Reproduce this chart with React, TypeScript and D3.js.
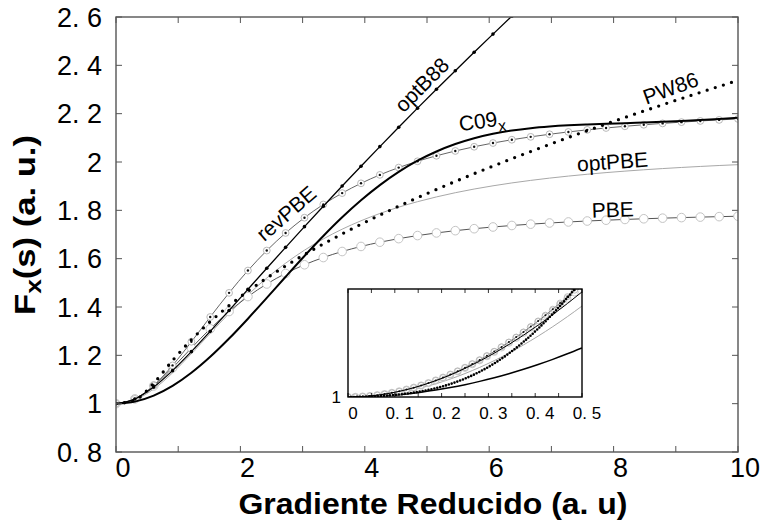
import React from "react";
import * as d3 from "d3";

// Reduced gradient grid for the main panel (step 10/33)
const S_MAIN = [0, 0.303, 0.606, 0.909, 1.212, 1.515, 1.818, 2.121, 2.424, 2.727, 3.03, 3.333, 3.636, 3.939, 4.242, 4.545, 4.848, 5.152, 5.455, 5.758, 6.061, 6.364, 6.667, 6.97, 7.273, 7.576, 7.879, 8.182, 8.485, 8.788, 9.091, 9.394, 9.697, 10];

const PBE = [1, 1.0197, 1.0733, 1.148, 1.2302, 1.3098, 1.3814, 1.4432, 1.4953, 1.5387, 1.5748, 1.6047, 1.6296, 1.6505, 1.6681, 1.6829, 1.6956, 1.7065, 1.7159, 1.724, 1.7311, 1.7373, 1.7428, 1.7476, 1.7519, 1.7558, 1.7592, 1.7623, 1.7651, 1.7676, 1.7699, 1.772, 1.7739, 1.7756];
const REVPBE = [1, 1.0198, 1.0757, 1.1583, 1.2562, 1.3587, 1.4585, 1.5508, 1.6336, 1.7064, 1.7696, 1.8243, 1.8713, 1.9118, 1.9467, 1.9769, 2.003, 2.0258, 2.0457, 2.0631, 2.0785, 2.0921, 2.1041, 2.1148, 2.1244, 2.133, 2.1408, 2.1478, 2.1541, 2.1598, 2.165, 2.1698, 2.1742, 2.1782];
const OPTPBE = [1, 1.0159, 1.0607, 1.1274, 1.207, 1.291, 1.3735, 1.4504, 1.5199, 1.5813, 1.6351, 1.6817, 1.722, 1.7568, 1.787, 1.8131, 1.8358, 1.8555, 1.8729, 1.8881, 1.9015, 1.9134, 1.9239, 1.9333, 1.9417, 1.9493, 1.9561, 1.9622, 1.9678, 1.9728, 1.9774, 1.9816, 1.9855, 1.989];
const C09X = [1, 1.0084, 1.0333, 1.0736, 1.1278, 1.1939, 1.2694, 1.3516, 1.4377, 1.5251, 1.6112, 1.6938, 1.7711, 1.8416, 1.9044, 1.959, 2.0053, 2.0435, 2.0743, 2.0984, 2.1167, 2.1302, 2.1399, 2.1467, 2.1516, 2.1551, 2.158, 2.1606, 2.1634, 2.1665, 2.17, 2.1739, 2.1783, 2.183];
const PW86 = [1, 1.0143, 1.0845, 1.1785, 1.2644, 1.3395, 1.4058, 1.4654, 1.5197, 1.5699, 1.6168, 1.6609, 1.7026, 1.7424, 1.7804, 1.817, 1.8523, 1.8864, 1.9195, 1.9517, 1.9831, 2.0137, 2.0436, 2.0728, 2.1015, 2.1295, 2.1571, 2.1842, 2.2108, 2.2369, 2.2627, 2.288, 2.313, 2.3376];
// optB88 leaves the frame near s = 6.4, so only the first points are kept
const OPTB88 = [1, 1.0191, 1.0686, 1.1367, 1.2153, 1.2992, 1.3857, 1.4731, 1.5603, 1.6469, 1.7325, 1.8171, 1.9005, 1.9827, 2.0638, 2.1439, 2.2228, 2.3008, 2.3778, 2.4539, 2.5292, 2.6037, 2.6774];

// Inset, fine grid (step 1/64)
const S_INSET_FINE = [0, 0.0156, 0.0313, 0.0469, 0.0625, 0.0781, 0.0938, 0.1094, 0.125, 0.1406, 0.1563, 0.1719, 0.1875, 0.2031, 0.2188, 0.2344, 0.25, 0.2656, 0.2813, 0.2969, 0.3125, 0.3281, 0.3438, 0.3594, 0.375, 0.3906, 0.4063, 0.4219, 0.4375, 0.4531, 0.4688, 0.4844, 0.5];
const PBE_INSET = [1, 1.00005, 1.00021, 1.00048, 1.00086, 1.00134, 1.00192, 1.00262, 1.00342, 1.00432, 1.00532, 1.00643, 1.00764, 1.00896, 1.01037, 1.01188, 1.01349, 1.0152, 1.017, 1.01889, 1.02088, 1.02296, 1.02513, 1.02738, 1.02973, 1.03216, 1.03467, 1.03726, 1.03993, 1.04268, 1.0455, 1.0484, 1.05137];
const REVPBE_INSET = [1, 1.00005, 1.00021, 1.00048, 1.00086, 1.00134, 1.00193, 1.00262, 1.00342, 1.00433, 1.00534, 1.00645, 1.00767, 1.00899, 1.01042, 1.01194, 1.01357, 1.0153, 1.01713, 1.01905, 1.02107, 1.0232, 1.02541, 1.02772, 1.03012, 1.03262, 1.0352, 1.03788, 1.04064, 1.0435, 1.04643, 1.04946, 1.05256];
const OPTPBE_INSET = [1, 1.00004, 1.00017, 1.00039, 1.00069, 1.00107, 1.00154, 1.0021, 1.00274, 1.00346, 1.00427, 1.00516, 1.00613, 1.00719, 1.00833, 1.00955, 1.01086, 1.01224, 1.0137, 1.01524, 1.01686, 1.01856, 1.02034, 1.02219, 1.02411, 1.02612, 1.02819, 1.03033, 1.03255, 1.03484, 1.0372, 1.03962, 1.04212];

// Inset, coarse grid (step 1/32)
const S_INSET = [0, 0.03125, 0.0625, 0.09375, 0.125, 0.15625, 0.1875, 0.21875, 0.25, 0.28125, 0.3125, 0.34375, 0.375, 0.40625, 0.4375, 0.46875, 0.5];
const C09X_INSET = [1, 1.00009, 1.00036, 1.00081, 1.00143, 1.00224, 1.00322, 1.00438, 1.00572, 1.00724, 1.00893, 1.0108, 1.01284, 1.01505, 1.01744, 1.02, 1.02273];
const PW86_INSET = [1, 1.00009, 1.00035, 1.00083, 1.00156, 1.00262, 1.00407, 1.00601, 1.00852, 1.01168, 1.01554, 1.02015, 1.02553, 1.03166, 1.0385, 1.04599, 1.05404];
const OPTB88_INSET = [1, 1.00021, 1.00086, 1.00192, 1.0034, 1.00528, 1.00756, 1.01021, 1.01323, 1.01659, 1.02029, 1.02431, 1.02863, 1.03324, 1.03812, 1.04327, 1.04866];

const Y_TICKS = [0.8, 1, 1.2, 1.4, 1.6, 1.8, 2, 2.2, 2.4, 2.6];
const Y_TICK_LABELS = ["0. 8", "1", "1. 2", "1. 4", "1. 6", "1. 8", "2", "2. 2", "2. 4", "2. 6"];
const X_TICKS = [0, 1, 2, 3, 4, 5, 6, 7, 8, 9, 10];
const X_LABEL_TICKS = [0, 2, 4, 6, 8, 10];
const X_TICK_LABELS = ["0", "2", "4", "6", "8", "10"];
const INSET_X_TICKS = [0, 0.05, 0.1, 0.15, 0.2, 0.25, 0.3, 0.35, 0.4, 0.45, 0.5];
const INSET_LABEL_TICKS = [0, 0.1, 0.2, 0.3, 0.4, 0.5];
const INSET_X_LABELS = ["0", "0. 1", "0. 2", "0. 3", "0. 4", "0. 5"];

const FONT = "'Liberation Sans', Arial, Helvetica, sans-serif";

export default function App() {
  const x = d3.scaleLinear().domain([0, 10]).range([116, 738]);
  const y = d3.scaleLinear().domain([0.8, 2.6]).range([452, 17]);
  const xi = d3.scaleLinear().domain([0, 0.5]).range([348, 582]);
  const yi = d3.scaleLinear().domain([1, 1.05]).range([397, 289]);

  const mainPath = (vals: number[]) =>
    d3.line<number>().x((_, i) => x(S_MAIN[i])).y((v) => y(v)).curve(d3.curveMonotoneX)(vals) || "";
  const finePath = (vals: number[]) =>
    d3.line<number>().x((_, i) => xi(S_INSET_FINE[i])).y((v) => yi(v)).curve(d3.curveMonotoneX)(vals) || "";
  const coarsePath = (vals: number[]) =>
    d3.line<number>().x((_, i) => xi(S_INSET[i])).y((v) => yi(v)).curve(d3.curveMonotoneX)(vals) || "";

  const [x0, x1] = x.range();
  const [yb, yt] = y.range();
  const tick = 6;

  return (
    <svg width={763} height={525} style={{ position: "fixed", left: 0, top: 0, background: "#fff" }} fontFamily={FONT}>
      <defs>
        <clipPath id="plot-clip">
          <rect x={x0} y={yt} width={x1 - x0} height={yb - yt} />
        </clipPath>
        <clipPath id="inset-clip">
          <rect x={xi(0)} y={yi(1.05)} width={xi(0.5) - xi(0)} height={yi(1) - yi(1.05)} />
        </clipPath>
      </defs>

      {/* main curves */}
      <g clipPath="url(#plot-clip)">
        <path d={mainPath(OPTPBE)} fill="none" stroke="#a8a8a8" strokeWidth={1} />
        <path d={mainPath(PBE)} fill="none" stroke="#555" strokeWidth={1} />
        {PBE.map((v, i) => (
          <circle key={"pbe" + i} cx={x(S_MAIN[i])} cy={y(v)} r={4.3} fill="#fff" stroke="#c4c4c4" strokeWidth={1} />
        ))}
        <path d={mainPath(REVPBE)} fill="none" stroke="#555" strokeWidth={0.9} />
        {REVPBE.map((v, i) => (
          <g key={"rev" + i}>
            <circle cx={x(S_MAIN[i])} cy={y(v)} r={3.4} fill="#fff" stroke="#b0b0b0" strokeWidth={0.9} />
            <circle cx={x(S_MAIN[i])} cy={y(v)} r={1.2} fill="#111" />
          </g>
        ))}
        <path d={mainPath(PW86)} fill="none" stroke="#000" strokeWidth={3.3} strokeDasharray="0 8.5" strokeLinecap="round" />
        <path d={mainPath(OPTB88)} fill="none" stroke="#000" strokeWidth={1.3} />
        {OPTB88.map((v, i) => (
          <circle key={"b88" + i} cx={x(S_MAIN[i])} cy={y(v)} r={1.8} fill="#000" />
        ))}
        <path d={mainPath(C09X)} fill="none" stroke="#000" strokeWidth={2} />
      </g>

      {/* frame and ticks */}
      <rect x={x0} y={yt} width={x1 - x0} height={yb - yt} fill="none" stroke="#555" strokeWidth={1.4} />
      {X_TICKS.map((t) => (
        <g key={"xt" + t} stroke="#555" strokeWidth={1}>
          <line x1={x(t)} x2={x(t)} y1={yb} y2={yb - tick} />
          <line x1={x(t)} x2={x(t)} y1={yt} y2={yt + tick} />
        </g>
      ))}
      {Y_TICKS.map((t) => (
        <g key={"yt" + t} stroke="#555" strokeWidth={1}>
          <line x1={x0} x2={x0 + tick} y1={y(t)} y2={y(t)} />
          <line x1={x1} x2={x1 - tick} y1={y(t)} y2={y(t)} />
        </g>
      ))}
      {Y_TICKS.map((t, i) => (
        <text key={"yl" + t} x={102} y={y(t)} dy="0.36em" textAnchor="end" fontSize={27} fill="#000">
          {Y_TICK_LABELS[i]}
        </text>
      ))}
      {X_LABEL_TICKS.map((t, i) => (
        <text key={"xl" + t} x={x(t) + 7} y={477} textAnchor="middle" fontSize={27} fill="#000">
          {X_TICK_LABELS[i]}
        </text>
      ))}

      {/* axis titles */}
      <text x={433} y={514} textAnchor="middle" fontSize={29} fontWeight="bold" textLength={389} lengthAdjust="spacingAndGlyphs">
        Gradiente Reducido (a. u)
      </text>
      <text transform="translate(35,225) rotate(-90)" textAnchor="middle" fontSize={29} fontWeight="bold" textLength={180} lengthAdjust="spacingAndGlyphs">
        F<tspan dy={6} fontSize={22}>x</tspan>
        <tspan dy={-6}>(s) (a. u.)</tspan>
      </text>

      {/* curve labels */}
      <text transform="translate(427,90) rotate(-45)" textAnchor="middle" fontSize={21}>optB88</text>
      <text transform="translate(291,219) rotate(-41)" textAnchor="middle" fontSize={21}>revPBE</text>
      <text transform="translate(483,128) rotate(-8)" textAnchor="middle" fontSize={21}>
        C09<tspan dy={6} fontSize={16}>x</tspan>
      </text>
      <text transform="translate(673,95) rotate(-20)" textAnchor="middle" fontSize={21}>PW86</text>
      <text transform="translate(613,169) rotate(-4)" textAnchor="middle" fontSize={21}>optPBE</text>
      <text transform="translate(613,217) rotate(-2)" textAnchor="middle" fontSize={21}>PBE</text>

      {/* inset */}
      <rect x={xi(0)} y={yi(1.05)} width={xi(0.5) - xi(0)} height={yi(1) - yi(1.05)} fill="#fff" />
      <g clipPath="url(#inset-clip)">
        <path d={finePath(OPTPBE_INSET)} fill="none" stroke="#a8a8a8" strokeWidth={1} />
        <path d={coarsePath(C09X_INSET)} fill="none" stroke="#000" strokeWidth={1.5} />
        <path d={finePath(PBE_INSET)} fill="none" stroke="#555" strokeWidth={0.9} />
        {PBE_INSET.map((v, i) => (
          <circle key={"ipbe" + i} cx={xi(S_INSET_FINE[i])} cy={yi(v)} r={3.6} fill="#fff" stroke="#c4c4c4" strokeWidth={0.9} />
        ))}
        <path d={finePath(REVPBE_INSET)} fill="none" stroke="#555" strokeWidth={0.8} />
        {REVPBE_INSET.map((v, i) => (
          <g key={"irev" + i}>
            <circle cx={xi(S_INSET_FINE[i])} cy={yi(v)} r={3} fill="none" stroke="#b0b0b0" strokeWidth={0.8} />
            <circle cx={xi(S_INSET_FINE[i])} cy={yi(v)} r={1} fill="#111" />
          </g>
        ))}
        <path d={coarsePath(OPTB88_INSET)} fill="none" stroke="#000" strokeWidth={1} />
        <path d={coarsePath(PW86_INSET)} fill="none" stroke="#000" strokeWidth={2.6} strokeDasharray="0 3" strokeLinecap="round" />
      </g>
      <rect x={xi(0)} y={yi(1.05)} width={xi(0.5) - xi(0)} height={yi(1) - yi(1.05)} fill="none" stroke="#000" strokeWidth={1.4} />
      {INSET_X_TICKS.map((t) => (
        <g key={"it" + t} stroke="#000" strokeWidth={0.8}>
          <line x1={xi(t)} x2={xi(t)} y1={yi(1)} y2={yi(1) - 4} />
          <line x1={xi(t)} x2={xi(t)} y1={yi(1.05)} y2={yi(1.05) + 4} />
        </g>
      ))}
      {INSET_LABEL_TICKS.map((t, i) => (
        <text key={"il" + t} x={xi(t) + 5} y={419} textAnchor="middle" fontSize={17}>
          {INSET_X_LABELS[i]}
        </text>
      ))}
      <text x={341} y={yi(1)} dy="0.35em" textAnchor="end" fontSize={17}>1</text>
    </svg>
  );
}
